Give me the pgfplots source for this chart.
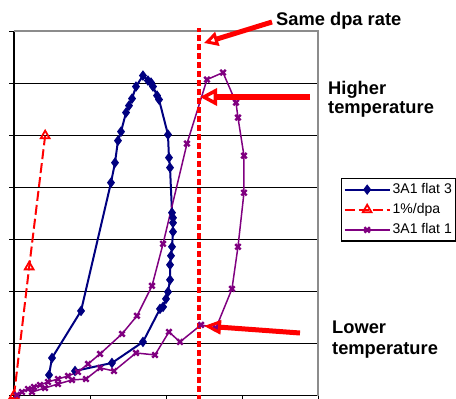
\documentclass[border=0pt]{standalone}
\usepackage{fontspec}
\setmainfont{Liberation Sans}
\usepackage{pgfplots}
\pgfplotsset{compat=1.18}
\usetikzlibrary{arrows.meta}
\definecolor{navyb}{RGB}{0,0,128}
\definecolor{purp}{RGB}{128,0,128}
\definecolor{bordergray}{RGB}{140,140,140}
\pgfplotsset{
  legend image code/.code={\draw[mark repeat=2,mark phase=2,#1] plot coordinates {(0bp,0bp)(22.5bp,0bp)(45bp,0bp)};}
}
\begin{document}
\begin{tikzpicture}
\useasboundingbox (0bp,0bp) rectangle (456bp,399bp);
\begin{axis}[
  at={(14bp,3.5bp)}, anchor=south west,
  scale only axis, width=304bp, height=364.5bp,
  xmin=0, xmax=4, ymin=0, ymax=7,
  axis x line*=bottom, axis y line*=left,
  xtick={0,1,2,3,4}, ytick={0,1,2,3,4,5,6,7},
  xticklabel={\mbox{}}, yticklabel={\mbox{}},
  tick align=outside, major tick length=5bp,
  tick style={black, line width=1bp},
  ymajorgrids, grid style={black, line width=1bp},
  axis line style={black, line width=1.3bp, -},
  clip=false,
  legend cell align=left,
  legend style={at={(axis description cs:1.0757,0.597)}, anchor=north west,
    draw=black, line width=1.3bp, fill=white,
    font=\fontsize{14bp}{16bp}\selectfont,
    inner xsep=2bp, inner ysep=3bp, row sep=4bp,
    cells={anchor=west}, nodes={inner sep=2bp, text depth=0.2em}},
]
\addplot[navyb, line width=2bp, mark=diamond*, mark size=4.5bp, mark options={solid, fill=navyb, line width=1bp}] coordinates {
(0.461,0.394) (0.500,0.721) (0.882,1.625) (1.276,4.087) (1.329,4.471) (1.368,4.894) (1.408,5.067) (1.474,5.433) (1.513,5.567) (1.553,5.702) (1.605,5.933) (1.697,6.144) (1.763,6.048) (1.803,6.010) (1.829,5.933) (1.882,5.760) (1.908,5.683) (2.026,5.010) (2.039,4.567) (2.053,4.375) (2.079,3.510) (2.092,3.413) (2.092,3.317) (2.092,3.144) (2.079,2.856) (2.066,2.683) (2.053,2.510) (2.053,2.221) (2.026,1.990) (2.000,1.856) (1.961,1.702) (1.921,1.663) (1.697,1.029) (1.289,0.625) (0.803,0.471)
};
\addlegendentry{3A1 flat 3}
\addplot[red, line width=2bp, dash pattern=on 10bp off 4bp, mark=triangle, mark size=5bp, mark options={solid, fill=white, line width=1.8bp}] coordinates {
(0,0) (0.2,2.47) (0.41,4.99)
};
\addlegendentry{1\%/dpa}
\addplot[purp, line width=1.5bp, mark=x, mark size=3.8bp, mark options={solid, line width=2.4bp}] coordinates {
(0.039,0.010) (0.105,0.067) (0.184,0.125) (0.263,0.163) (0.342,0.202) (0.447,0.260) (0.579,0.317) (0.711,0.375) (0.842,0.452) (0.974,0.606) (1.132,0.798) (1.421,1.183) (1.618,1.529) (1.816,2.106) (1.961,2.913) (2.276,4.837) (2.539,6.067) (2.750,6.202) (2.921,5.625) (2.947,5.337) (3.026,4.606) (3.026,3.894) (2.947,2.856) (2.868,2.048) (2.658,1.298) (2.461,1.356) (2.184,1.029) (2.039,1.221) (1.855,0.779) (1.605,0.817) (1.316,0.471) (1.132,0.529) (0.947,0.317) (0.763,0.298) (0.579,0.221) (0.408,0.144) (0.237,0.067)
};
\addlegendentry{3A1 flat 1}
\draw[bordergray, line width=1.3bp] (rel axis cs:0,1) -- (rel axis cs:1,1) -- (rel axis cs:1,0);
\draw[red, line width=4.2bp, dash pattern=on 6bp off 3bp] (axis cs:2.43,-0.1) -- (axis cs:2.43,7.05);
\end{axis}
\begin{scope}[x=1bp,y=1bp]
\draw[red, line width=5bp, -{Triangle[open, length=14bp, width=14bp, line width=3bp]}] (272,377) -- (204,356);
\draw[red, line width=6bp, -{Triangle[open, length=17bp, width=17bp, line width=3.5bp]}] (310,302) -- (200,302);
\draw[red, line width=5bp, -{Triangle[open, length=17bp, width=14bp, line width=3bp]}] (300,66) -- (204,73);
\begin{scope}[every node/.style={anchor=base west, inner sep=0pt, font=\bfseries\fontsize{18.3bp}{20bp}\selectfont}]
\node at (276,374) {Same dpa rate};
\node at (328,304.7) {Higher};
\node at (328,285.7) {temperature};
\node at (332,66) {Lower};
\node at (332,45) {temperature};
\end{scope}
\end{scope}
\end{tikzpicture}
\end{document}
